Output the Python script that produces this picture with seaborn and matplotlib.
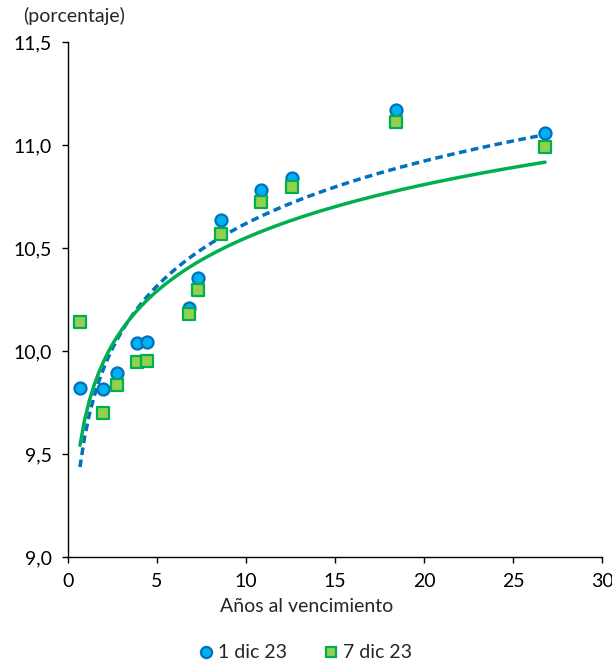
import seaborn as sns
import matplotlib.pyplot as plt
import matplotlib.ticker as mticker
from matplotlib.lines import Line2D
import pandas as pd

# Años al vencimiento
years = [0.67, 1.97, 2.75, 3.88, 4.44, 6.8, 7.3, 8.6, 10.84, 12.58, 18.43, 26.8]
# Tasas (porcentaje)
rate_1dic = [9.82, 9.815, 9.893, 10.04, 10.044, 10.209, 10.354, 10.636, 10.78, 10.84, 11.17, 11.06]
rate_7dic = [10.14, 9.70, 9.835, 9.947, 9.951, 10.18, 10.296, 10.568, 10.723, 10.796, 11.11, 10.99]

df = pd.DataFrame({'years': years, 'd1': rate_1dic, 'd7': rate_7dic})

blue_face, blue_edge = '#00B0F0', '#0070C0'
green_face, green_edge = '#92D050', '#00B050'
fs = 14

sns.set_style('ticks')
plt.rcParams['font.family'] = ['Lato', 'DejaVu Sans']

fig = plt.figure(figsize=(6.12, 6.66), dpi=100)
ax = fig.add_axes([68 / 612, 1 - 557 / 666, 534 / 612, 515 / 666])

# log trend lines
sns.regplot(data=df, x='years', y='d1', logx=True, ci=None, scatter=False, ax=ax,
            line_kws={'color': blue_edge, 'lw': 2.5, 'ls': (0, (2.2, 1.3)), 'zorder': 2})
sns.regplot(data=df, x='years', y='d7', logx=True, ci=None, scatter=False, ax=ax,
            line_kws={'color': green_edge, 'lw': 2.5, 'zorder': 3})

sns.scatterplot(data=df, x='years', y='d1', marker='o', s=75, color=blue_face,
                edgecolor=blue_edge, linewidth=1.6, ax=ax, zorder=4)
sns.scatterplot(data=df, x='years', y='d7', marker='s', s=65, color=green_face,
                edgecolor=green_edge, linewidth=1.6, ax=ax, zorder=5)

ax.set_xlim(0, 30)
ax.set_ylim(9.0, 11.5)
ax.set_xticks(range(0, 31, 5))
ax.set_yticks([9.0, 9.5, 10.0, 10.5, 11.0, 11.5])
ax.yaxis.set_major_formatter(mticker.FuncFormatter(lambda v, p: f'{v:.1f}'.replace('.', ',')))
ax.tick_params(labelsize=fs, direction='out', length=4.5, width=1, colors='black', pad=7)
for s in ['left', 'bottom']:
    ax.spines[s].set_color('black')
    ax.spines[s].set_linewidth(1)
sns.despine(ax=ax)

ax.set_xlabel('Años al vencimiento', fontsize=fs, labelpad=6)
ax.xaxis.label.set_x((307 - 68) / 534)
ax.set_ylabel('')
fig.text(23 / 612, 1 - 16 / 666, '(porcentaje)', fontsize=fs, ha='left', va='center')

handles = [
    Line2D([], [], marker='o', ls='', markersize=8, markerfacecolor=blue_face,
           markeredgecolor=blue_edge, markeredgewidth=1.6, label='1 dic 23'),
    Line2D([], [], marker='s', ls='', markersize=7.5, markerfacecolor=green_face,
           markeredgecolor=green_edge, markeredgewidth=1.6, label='7 dic 23'),
]
fig.legend(handles=handles, loc='center', bbox_to_anchor=(304 / 612, 1 - 653 / 666), ncol=2,
           frameon=False, fontsize=fs, handletextpad=0.1, columnspacing=1.8, handlelength=1.0)

fig.savefig('out.png', dpi=100)
